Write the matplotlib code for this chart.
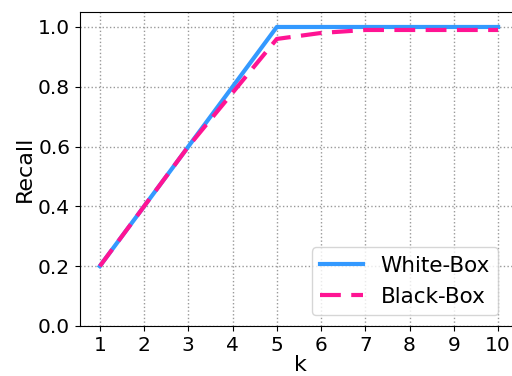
import numpy as np
import matplotlib.pyplot as plt

k = [1, 2, 3, 4, 5, 6, 7, 8, 9, 10]
white_box = [0.2, 0.4, 0.6, 0.8, 1.0, 1.0, 1.0, 1.0, 1.0, 1.0]
black_box = [0.2, 0.4, 0.6, 0.78, 0.96, 0.98, 0.99, 0.99, 0.99, 0.99]

fig = plt.figure(figsize=(5.12, 3.76), dpi=100)
# right edge of the axes runs off the canvas like in the original
ax = fig.add_axes([0.156, 0.133, 0.86, 0.835])

ax.plot(k, white_box, color='#3399ff', lw=3, label='White-Box')
ax.plot(k, black_box, color='#ff1493', lw=3, ls='--', dashes=(5, 2.5), label='Black-Box')

ax.set_xlim(0.55, 10.5)
ax.set_ylim(0, 1.05)
ax.set_xticks(k)
ax.set_yticks(np.arange(0, 1.01, 0.2))
ax.tick_params(labelsize=14.5)
ax.set_xlabel('k', fontsize=16, labelpad=0)
ax.set_ylabel('Recall', fontsize=16, labelpad=2)
ax.grid(True, ls=':', color='#999999', lw=1)
ax.legend(loc='lower right', fontsize=15.5, bbox_to_anchor=(0.975, 0.0))

fig.savefig('out.png', dpi=100)
